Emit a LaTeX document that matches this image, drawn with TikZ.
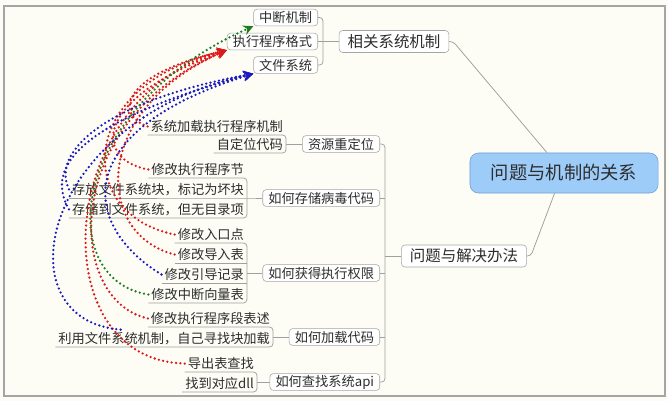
\documentclass[tikz,border=0pt]{standalone}
\usepackage{fontspec}
\setmainfont{Noto Sans CJK SC}
\usetikzlibrary{calc}
\usetikzlibrary{arrows.meta}
\definecolor{paper}{RGB}{253, 253, 246}
\definecolor{frame}{RGB}{165, 165, 165}
\definecolor{topicline}{RGB}{160, 160, 160}
\definecolor{centerfill}{RGB}{158, 204, 248}
\definecolor{centerdraw}{RGB}{110, 160, 210}
\definecolor{textgray}{RGB}{45, 45, 45}
\definecolor{relred}{RGB}{220, 25, 25}
\definecolor{relblue}{RGB}{25, 25, 190}
\definecolor{relgreen}{RGB}{30, 125, 30}

\tikzset{
  topic/.style={draw=frame, fill=white, rounded corners=2.5pt, text=textgray,
    inner xsep=4pt, inner ysep=0pt, minimum height=0.42cm,
    font=\fontsize{9.4pt}{11pt}\selectfont},
  maintopic/.style={topic, inner xsep=6pt, minimum height=0.55cm,
    font=\fontsize{11pt}{13pt}\selectfont},
  leaf/.style={anchor=south east, inner xsep=2pt, inner ysep=1.5pt, text=textgray,
    font=\fontsize{9.4pt}{11pt}\selectfont},
  link/.style={draw=topicline, line width=0.55pt, rounded corners=2.5pt},
  rel/.style={line width=1.8pt, dash pattern=on 0pt off 3.1pt, line cap=round,
    -{Stealth[length=7pt,width=7pt]}},
}

\begin{document}
\begin{tikzpicture}[x=0.025cm, y=-0.025cm]
        % 背景与边框
        \useasboundingbox (0,0) rectangle (668,401);
        \fill[paper] (0,0) rectangle (668,401);
        \draw[frame, line width=0.8pt] (4,6) rectangle (665,396);
        % 中心主题
        \node[draw=centerdraw, fill=centerfill, rounded corners=6pt, minimum width=4.7cm,
          minimum height=1cm, text=textgray, font=\fontsize{13pt}{15pt}\selectfont]
          (gx) at (564,173) {问题与机制的关系};
        % 一级主题
        \node[maintopic] (xgjz) at (394,41.5) {相关系统机制};
        \node[maintopic] (wtjj) at (464,256) {问题与解决办法};
        \draw[link] (xgjz.east) -- ++(4,0) -- ($(gx.north west)!0.41!(gx.north east)$);
        \draw[link] (wtjj.east) -- ++(4,0) -- ($(gx.south west)!0.45!(gx.south east)$);
        % 相关系统机制
        \node[topic, anchor=east] (zdjz) at (318,17.5) {中断机制};
        \node[topic, anchor=east] (zxgs) at (318,41.5) {执行程序格式};
        \node[topic, anchor=east] (wjxt) at (318,65) {文件系统};
        \draw[link] (zdjz.east) -- ++(5,0) |- (wjxt.east);
        \draw[link] (zxgs.east) -- (xgjz.west);
        % 问题与解决办法
        \node[topic, anchor=east] (zycdw) at (380,144) {资源重定位};
        \node[topic, anchor=east] (ccbd) at (380,198) {如何存储病毒代码};
        \node[topic, anchor=east] (hdqx) at (380,273) {如何获得执行权限};
        \node[topic, anchor=east] (jzdm) at (380,337) {如何加载代码};
        \node[topic, anchor=east] (czapi) at (380,382) {如何查找系统api};
        \draw[link] (zycdw.east) -- ++(5,0) |- (czapi.east);
        \draw[link] (ccbd.east) -- ++(5,0);
        \draw[link] (hdqx.east) -- ++(5,0);
        \draw[link] (jzdm.east) -- ++(5,0);
        \coordinate (jjbar) at ($(hdqx.east)+(5,0)$);
        \draw[link] (wtjj.west) -- (wtjj.west -| jjbar);
        % 资源重定位
        \node[leaf] (xtjz) at (286,135) {系统加载执行程序机制};
        \node[leaf] (zdwdm) at (286,153) {自定位代码};
        \draw[link] (xtjz.south west) -- (xtjz.south east) -- (zdwdm.south east) -- (zdwdm.south west);
        \draw[link] (zycdw.west) -- (zycdw.west -| xtjz.south east);
        % 如何存储病毒代码
        \node[leaf] (xgjd) at (247,178) {修改执行程序节};
        \node[leaf] (hkcc) at (247,198) {存放文件系统块，标记为坏块};
        \node[leaf] (wmlx) at (247,218) {存储到文件系统，但无目录项};
        \draw[link] (xgjd.south west) -- (xgjd.south east) -- (wmlx.south east) -- (wmlx.south west);
        \draw[link] (hkcc.south west) -- (hkcc.south east) -- (ccbd.west);
        % 如何获得执行权限
        \node[leaf] (rkd) at (247,243) {修改入口点};
        \node[leaf] (drb) at (247,263) {修改导入表};
        \node[leaf] (ydjl) at (247,283) {修改引导记录};
        \node[leaf] (zdxl) at (247,303) {修改中断向量表};
        \draw[link] (rkd.south west) -- (rkd.south east) -- (zdxl.south east) -- (zdxl.south west);
        \draw[link] (drb.south west) -- (drb.south east);
        \draw[link] (ydjl.south west) -- (ydjl.south east);
        \draw[link] (hdqx.west) -- (hdqx.west -| rkd.south east);
        % 如何加载代码
        \node[leaf] (dbs) at (273,327) {修改执行程序段表述};
        \node[leaf] (zjjz) at (273,347) {利用文件系统机制，自己寻找块加载};
        \draw[link] (dbs.south west) -- (dbs.south east) -- (zjjz.south east) -- (zjjz.south west);
        \draw[link] (jzdm.west) -- (jzdm.west -| dbs.south east);
        % 如何查找系统api
        \node[leaf] (dcb) at (257,372) {导出表查找};
        \node[leaf] (dydll) at (257,392) {找到对应dll};
        \draw[link] (dcb.south west) -- (dcb.south east) -- (dydll.south east) -- (dydll.south west);
        \draw[link] (czapi.west) -- (czapi.west -| dcb.south east);
        % 关系线：执行程序格式
        \draw[rel, relred] (xtjz.west) .. controls (115,115) and (120,75) .. (zxgs.south west);
        \draw[rel, relred] (xgjd.west) .. controls (95,160) and (90,100) .. (zxgs.south west);
        \draw[rel, relred] (rkd.west) .. controls (75,215) and (75,85) .. (zxgs.south west);
        \draw[rel, relred] (drb.west) .. controls (95,235) and (90,110) .. (zxgs.south west);
        \draw[rel, relred] (dbs.west) .. controls (65,300) and (60,120) .. (zxgs.south west);
        \draw[rel, relred] (dcb.west) .. controls (40,360) and (55,95) .. (zxgs.south west);
        % 关系线：文件系统
        \draw[rel, relblue] (hkcc.west) .. controls (50,150) and (110,100) .. (wjxt.south west);
        \draw[rel, relblue] (wmlx.west) .. controls (40,160) and (100,115) .. (wjxt.south west);
        \draw[rel, relblue] (ydjl.west) .. controls (80,225) and (70,130) .. (wjxt.south west);
        \draw[rel, relblue] ($(zjjz.north west)!0.3!(zjjz.north east)$) .. controls (0,320) and (40,120) .. (wjxt.south west);
        % 关系线：中断机制
        \draw[rel, relgreen] (zdxl.west) .. controls (55,280) and (65,110) .. (zdjz.south west);
    \end{tikzpicture}
\end{document}
